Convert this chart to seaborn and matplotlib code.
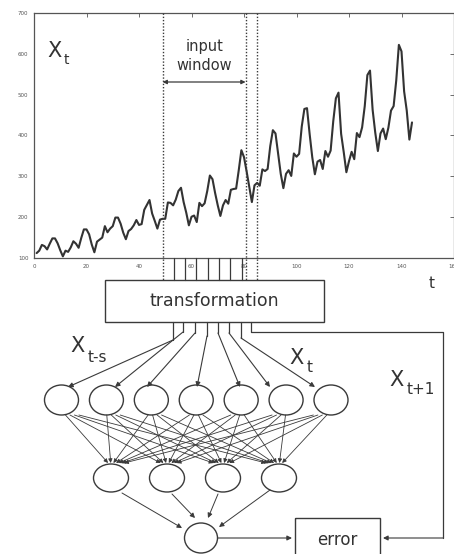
import numpy as np
import pandas as pd
import matplotlib
matplotlib.use('Agg')
import matplotlib.pyplot as plt
from matplotlib.patches import Ellipse, Rectangle
import seaborn as sns

sns.set_style("white")
plt.rcParams['font.family'] = ['DejaVu Sans']

# monthly series shown in the top panel (months 1..144)
passengers = [112, 118, 132, 129, 121, 135, 148, 148, 136, 119, 104, 118,
              115, 126, 141, 135, 125, 149, 170, 170, 158, 133, 114, 140,
              145, 150, 178, 163, 172, 178, 199, 199, 184, 162, 146, 166,
              171, 180, 193, 181, 183, 218, 230, 242, 209, 191, 172, 194,
              196, 196, 236, 235, 229, 243, 264, 272, 237, 211, 180, 201,
              204, 188, 235, 227, 234, 264, 302, 293, 259, 229, 203, 229,
              242, 233, 267, 269, 270, 315, 364, 347, 312, 274, 237, 278,
              284, 277, 317, 313, 318, 374, 413, 405, 355, 306, 271, 306,
              315, 301, 356, 348, 355, 422, 465, 467, 404, 347, 305, 336,
              340, 318, 362, 348, 363, 435, 491, 505, 404, 359, 310, 337,
              360, 342, 406, 396, 420, 472, 548, 559, 463, 407, 362, 405,
              417, 391, 419, 461, 472, 535, 622, 606, 508, 461, 390, 432]
months = list(range(1, len(passengers) + 1))
x_ticks = [0, 20, 40, 60, 80, 100, 120, 140, 160]
y_ticks = [100, 200, 300, 400, 500, 600, 700]

# input window (in months)
window_start = 49
window_end = 80.6
next_point = 84.8
n_inputs = 7
n_hidden = 4

df = pd.DataFrame({'t': months, 'x': passengers})

W, H = 454, 554
LC = '#3a3a3a'
fig = plt.figure(figsize=(W / 100, H / 100), dpi=100)

# ---- time series panel
ax_l, ax_r, ax_t, ax_b = 34, 454, 13, 258
ax = fig.add_axes([ax_l / W, 1 - ax_b / H, (ax_r - ax_l) / W, (ax_b - ax_t) / H])
sns.lineplot(data=df, x='t', y='x', ax=ax, color='#333333', linewidth=1.5)
ax.set_xlim(0, 160)
ax.set_ylim(100, 700)
ax.set_xticks(x_ticks)
ax.set_yticks(y_ticks)
ax.tick_params(direction='in', length=3, width=0.6, labelsize=4, colors='#555555',
               top=True, right=True, pad=4)
ax.set_xlabel('')
ax.set_ylabel('')
for s in ax.spines.values():
    s.set_color('#555555')
    s.set_linewidth(0.9)

def px(x):
    return ax_l + x * (ax_r - ax_l) / 160

# ---- overlay in pixel coordinates for the diagram
ov = fig.add_axes([0, 0, 1, 1])
ov.set_xlim(0, W)
ov.set_ylim(H, 0)
ov.axis('off')

def arrow(p0, p1, lw=0.8, ms=7):
    ov.annotate('', xy=p1, xytext=p0,
                arrowprops=dict(arrowstyle='-|>', color=LC, lw=lw,
                                mutation_scale=ms, shrinkA=0, shrinkB=0))

box_top, box_bot = 280, 322
dot = (0, (1, 1.3))
for xv in [window_start, window_end, next_point]:
    ov.plot([px(xv), px(xv)], [ax_t, box_top], color=LC, lw=1.0, linestyle=dot)

# short feeds from the axis into the transformation box
feed_x = np.linspace(px(window_start) + 11, px(window_end) - 4, n_inputs)
for fx in feed_x:
    ov.plot([fx, fx], [ax_b, box_top], color=LC, lw=0.9)

# input window label and double arrow
ov.text((px(window_start) + px(window_end)) / 2, 47, 'input', ha='center', va='center', fontsize=10.5, color='#333333')
ov.text((px(window_start) + px(window_end)) / 2, 65, 'window', ha='center', va='center', fontsize=10.5, color='#333333')
ov.annotate('', xy=(px(window_start), 82), xytext=(px(window_end), 82),
            arrowprops=dict(arrowstyle='<|-|>', color=LC, lw=0.9, mutation_scale=6, shrinkA=0, shrinkB=0))

# X_t label in plot
ov.text(47, 51, 'X', fontsize=15, ha='left', va='center', color='#333333')
ov.text(64, 60, 't', fontsize=10, ha='left', va='center', color='#333333')
ov.text(432, 284, 't', fontsize=11, ha='center', va='center', color='#333333')

# transformation box
ov.add_patch(Rectangle((105, box_top), 219, box_bot - box_top, fill=False, ec=LC, lw=1.0))
ov.text(214.5, 301, 'transformation', ha='center', va='center', fontsize=12.5, color='#333333')

# input layer
in_x = np.linspace(61.5, 331, n_inputs)
in_y = 400
for cx in in_x:
    ov.add_patch(Ellipse((cx, in_y), 34, 30, fill=False, ec=LC, lw=1.0))

out_start = [173, 183, 195, 207, 218, 229, 241]
arrow_end = [68, 115, 147, 197, 240, 270, 315]
bend_y = [340, 332, 333, 336, 333, 333, 338]
for sx, ex, by in zip(out_start, arrow_end, bend_y):
    ov.plot([sx, sx], [box_bot, by], color=LC, lw=0.9)
    arrow((sx, by), (ex, 387))

# feedback line x_{t+1}
fb_x = 251
ov.plot([fb_x, fb_x, 443, 443], [box_bot, 332, 332, 538], color=LC, lw=0.9)

# hidden layer
hid_x = np.linspace(111, 279, n_hidden)
hid_y = 478
for hx in hid_x:
    ov.add_patch(Ellipse((hx, hid_y), 35, 28, fill=False, ec=LC, lw=1.0))
for cx in in_x:
    for hx in hid_x:
        arrow((cx + (hx - cx) * 0.08, in_y + 15), (hx - (hx - cx) * 0.06, hid_y - 15), lw=0.6, ms=6)

# output neuron
o_x, o_y = 201, 538
ov.add_patch(Ellipse((o_x, o_y), 33, 30, fill=False, ec=LC, lw=1.0))
hid_ends = [(182, 528), (195, 518), (208, 518), (219, 527)]
hid_starts = [(122, 493), (172, 494), (218, 494), (270, 490)]
for s0, e0 in zip(hid_starts, hid_ends):
    arrow(s0, e0, lw=0.7)

# error box
ov.add_patch(Rectangle((295, 518), 85, 50, fill=False, ec=LC, lw=1.0))
ov.text(337.5, 540, 'error', ha='center', va='center', fontsize=12, color='#333333')
arrow((o_x + 17, o_y), (292, o_y))
arrow((443, o_y), (383, o_y))

# neuron labels
ov.text(70, 346, 'X', fontsize=15, ha='left', va='center', color='#333333')
ov.text(88, 357, 't-s', fontsize=11, ha='left', va='center', color='#333333')
ov.text(289, 358, 'X', fontsize=15, ha='left', va='center', color='#333333')
ov.text(307, 367, 't', fontsize=11, ha='left', va='center', color='#333333')
ov.text(389, 380, 'X', fontsize=15, ha='left', va='center', color='#333333')
ov.text(407, 389, 't+1', fontsize=11, ha='left', va='center', color='#333333')

fig.savefig('out.png', dpi=100)
